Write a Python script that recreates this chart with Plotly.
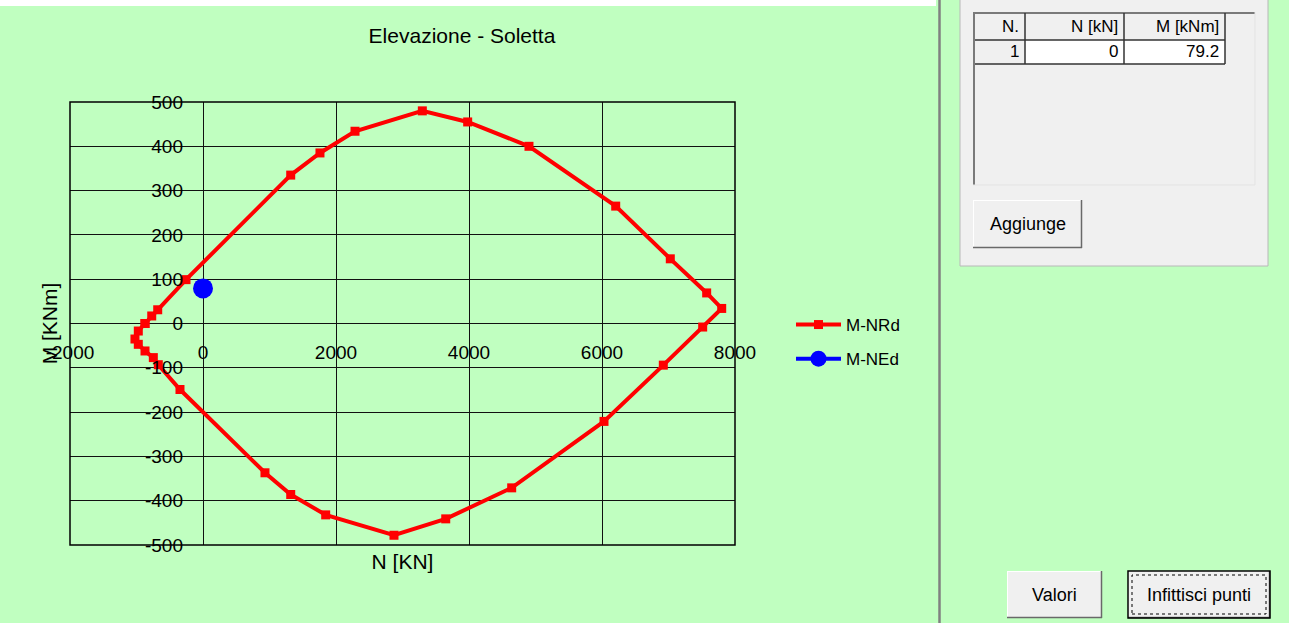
import plotly.graph_objects as go

# ---------------- data ----------------
N_rd = [-872, -771, -681, -256, 1319, 1759, 2286, 3298, 3980, 4902, 6206, 7027, 7574, 7800,
        7514, 6922, 6030, 4642, 3650, 2872, 1845, 1319, 932, -346, -672, -747, -872, -973,
        -1023, -973, -872]
M_rd = [0, 17, 31, 99, 335, 385, 434, 480, 455, 400, 265, 146, 69, 34,
        -8, -94, -221, -371, -441, -478, -432, -386, -337, -149, -93, -77, -62, -47,
        -35, -17, 0]
N_ed = [0]
M_ed = [79.2]

x_ticks = [-2000, 0, 2000, 4000, 6000, 8000]
y_ticks = [-500, -400, -300, -200, -100, 0, 100, 200, 300, 400, 500]

table_header = ["N.", "N [kN]", "M [kNm]"]
table_row = ["1", "0", "79.2"]

# ---------------- layout helpers ----------------
W, H = 1289, 623
L, R, T, B = 70, 554, 102, 78
PW, PH = W - L - R, H - T - B
GREEN = "#C0FFC0"
FONT = "Liberation Sans, Arial, sans-serif"


def fx(px):
    return (px - L) / PW


def fy(py):
    return (H - B - py) / PH


shapes = []
annotations = []


def rect(x0, y0, x1, y1, fill=None, line=None, lw=1, dash=None, layer="above"):
    shapes.append(dict(type="rect", xref="paper", yref="paper",
                       x0=fx(x0), x1=fx(x1), y0=fy(y1), y1=fy(y0),
                       fillcolor=fill or "rgba(0,0,0,0)",
                       line=dict(color=line or "rgba(0,0,0,0)", width=lw if line else 0,
                                 dash=dash or "solid"),
                       layer=layer))


def hline(x0, x1, y, color, lw=1):
    shapes.append(dict(type="line", xref="paper", yref="paper",
                       x0=fx(x0), x1=fx(x1), y0=fy(y), y1=fy(y),
                       line=dict(color=color, width=lw)))


def vline(x, y0, y1, color, lw=1):
    shapes.append(dict(type="line", xref="paper", yref="paper",
                       x0=fx(x), x1=fx(x), y0=fy(y0), y1=fy(y1),
                       line=dict(color=color, width=lw)))


def text(x, y, s, size=16, xanchor="center"):
    annotations.append(dict(xref="paper", yref="paper", x=fx(x), y=fy(y), text=s,
                            showarrow=False, xanchor=xanchor, yanchor="middle",
                            font=dict(family=FONT, size=size, color="#000000")))


def button(x0, y0, x1, y1, label, default=False):
    rect(x0, y0, x1, y1, fill="#F0F0F0")
    hline(x0, x1, y0 + 0.5, "#FFFFFF", 1)
    vline(x0 + 0.5, y0, y1, "#FFFFFF", 1)
    hline(x0, x1, y1 - 0.5, "#696969", 1.5)
    vline(x1 - 0.5, y0, y1, "#696969", 1.5)
    if default:
        rect(x0, y0, x1, y1, line="#000000", lw=1.5)
        rect(x0 + 4, y0 + 4, x1 - 4, y1 - 4, line="#000000", lw=1, dash="dot")
    text((x0 + x1) / 2, (y0 + y1) / 2, label, size=18)


# white strip at top of chart window
rect(0, 0, 936, 6, fill="#FFFFFF")
# plot border
shapes.append(dict(type="rect", xref="paper", yref="paper", x0=0, x1=1, y0=0, y1=1,
                   line=dict(color="#000000", width=1.5), layer="above"))
# separator
vline(939.5, 0, 623, "#808080", 2.5)

# group panel
rect(960, -2, 1268, 266, fill="#F0F0F0", line="#B8B8B8", lw=1)
# list view
rect(973, 12, 1255, 185, fill="#F0F0F0")
hline(973, 1255, 13, "#7A7A7A", 2)
vline(974, 12, 185, "#7A7A7A", 2)
hline(973, 1255, 185, "#E3E3E3", 1)
vline(1255, 12, 185, "#E3E3E3", 1)
# table cells
rect(1025, 40, 1124, 64, fill="#FFFFFF")
rect(1124, 40, 1225, 64, fill="#FFFFFF")
hline(975, 1225, 40, "#333333", 1.5)
hline(975, 1225, 64, "#333333", 1.5)
for xv in (1025, 1124, 1225):
    vline(xv, 13, 64, "#333333", 1.5)
col_right = [1021, 1120, 1221]
for xr, s in zip(col_right, table_header):
    text(xr, 26, s, size=17, xanchor="right")
for xr, s in zip(col_right, table_row):
    text(xr, 52, s, size=17, xanchor="right")

button(973, 200, 1082, 248, "Aggiunge")
button(1007, 571, 1102, 618, "Valori")
button(1128, 571, 1270, 618, "Infittisci punti", default=True)

# ---------------- figure ----------------
fig = go.Figure()
fig.add_trace(go.Scatter(x=N_rd, y=M_rd, mode="lines+markers", name="M-NRd",
                         legendgroup="a",
                         line=dict(color="#FF0000", width=4),
                         marker=dict(symbol="square", size=9, color="#FF0000")))
fig.add_trace(go.Scatter(x=N_ed, y=M_ed, mode="lines+markers", name="M-NEd",
                         legendgroup="b",
                         line=dict(color="#0000FF", width=4),
                         marker=dict(symbol="circle", size=20, color="#0000FF")))

fig.update_layout(
    width=W, height=H,
    margin=dict(l=L, r=R, t=T, b=B, autoexpand=False),
    paper_bgcolor=GREEN, plot_bgcolor=GREEN,
    font=dict(family=FONT, color="#000000"),
    title=dict(text="Elevazione - Soletta", xref="container", yref="container",
               x=462 / W, y=1 - 36 / H, xanchor="center", yanchor="middle",
               font=dict(size=21, family=FONT, color="#000000")),
    xaxis=dict(range=[-2000, 8000], tickvals=x_ticks, ticktext=[str(v) for v in x_ticks],
               showgrid=True, gridcolor="#111111", gridwidth=1.3,
               zeroline=True, zerolinecolor="#111111", zerolinewidth=1.3,
               showline=False, anchor="free", position=0.5,
               ticks="", ticklabelstandoff=15,
               tickfont=dict(size=19, family=FONT, color="#000000"),
               title=dict(text="N [KN]", standoff=192,
                          font=dict(size=21, family=FONT, color="#000000")),
               automargin=False, fixedrange=True),
    yaxis=dict(range=[-500, 500], tickvals=y_ticks, ticktext=[str(v) for v in y_ticks],
               showgrid=True, gridcolor="#111111", gridwidth=1.3,
               zeroline=True, zerolinecolor="#111111", zerolinewidth=1.3,
               showline=False, anchor="free", position=0.2,
               ticks="", ticklabelstandoff=20,
               tickfont=dict(size=19, family=FONT, color="#000000"),
               title=dict(text="M [KNm]", standoff=80,
                          font=dict(size=21, family=FONT, color="#000000")),
               automargin=False, fixedrange=True),
    legend=dict(x=fx(791), y=fy(307), xanchor="left", yanchor="top",
                bgcolor="rgba(0,0,0,0)", font=dict(size=17, family=FONT, color="#000000"),
                tracegroupgap=9, itemwidth=45),
    shapes=shapes,
    annotations=annotations,
)

fig.write_html("out.html", config={"displayModeBar": False},
               post_script="document.body.style.margin='0';")
